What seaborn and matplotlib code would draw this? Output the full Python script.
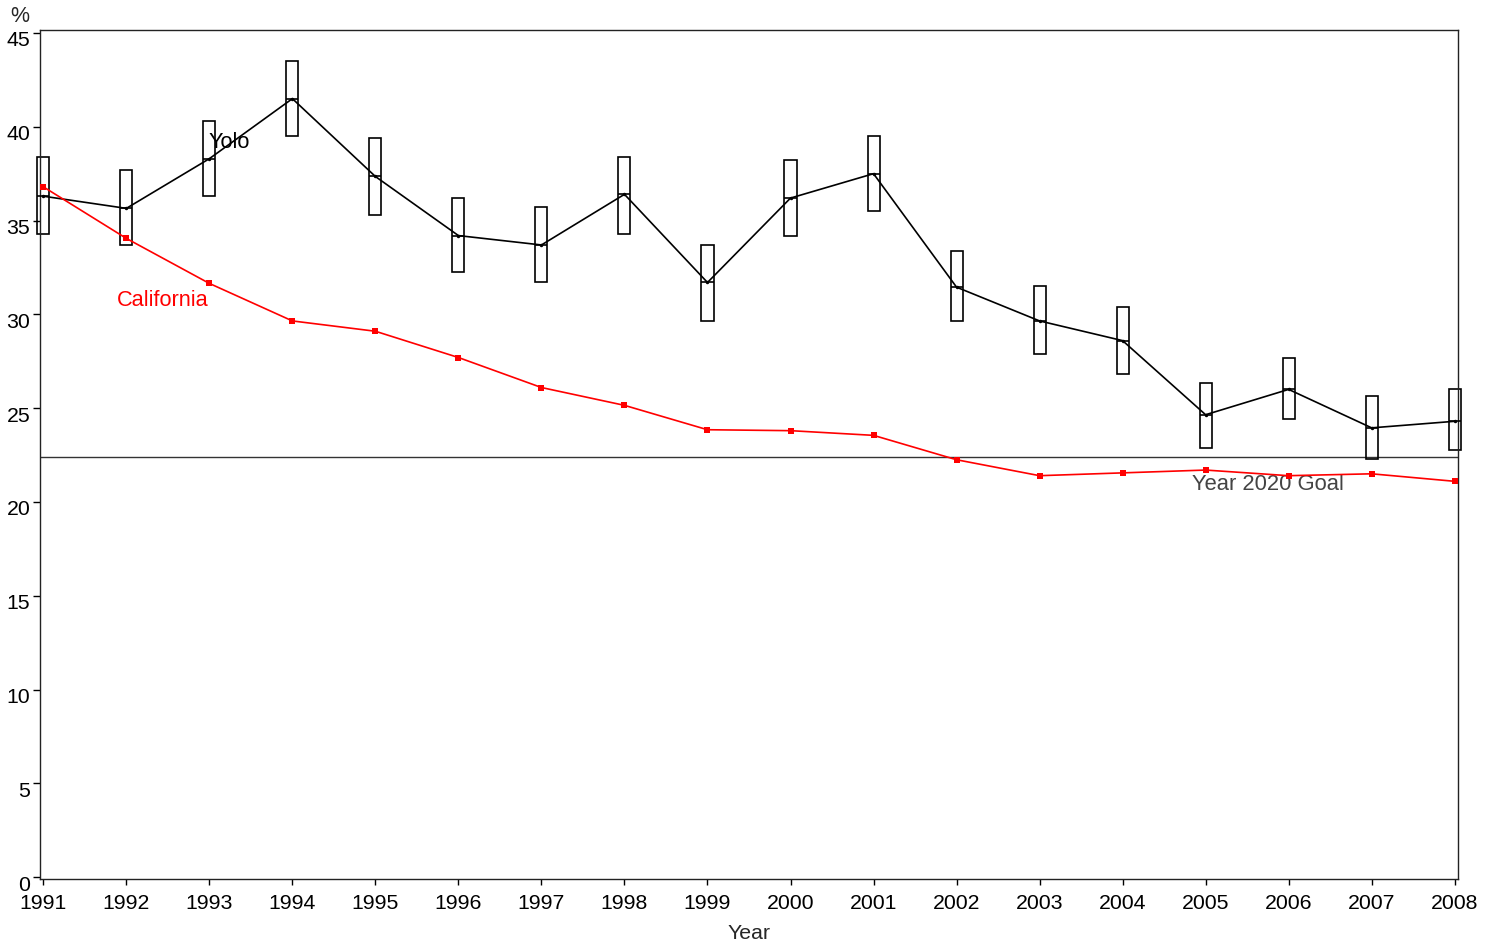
import seaborn as sns
import matplotlib.pyplot as plt
import matplotlib.transforms as mtransforms
import pandas as pd

sns.set_style("ticks")
plt.rcParams["font.family"] = ["Liberation Sans", "DejaVu Sans"]

# Data
years = list(range(1991, 2009))
yolo = [36.3, 35.65, 38.3, 41.5, 37.35, 34.2, 33.7, 36.4, 31.7,
        36.2, 37.5, 31.45, 29.65, 28.6, 24.65, 26.0, 23.95, 24.3]
yolo_upper = [38.4, 37.7, 40.3, 43.5, 39.4, 36.2, 35.7, 38.4, 33.7,
              38.25, 39.5, 33.4, 31.5, 30.4, 26.35, 27.7, 25.65, 26.0]
yolo_lower = [34.3, 33.7, 36.3, 39.5, 35.3, 32.25, 31.7, 34.3, 29.65,
              34.2, 35.5, 29.65, 27.9, 26.8, 22.85, 24.4, 22.3, 22.75]
california = [36.8, 34.05, 31.65, 29.65, 29.1, 27.7, 26.1, 25.15, 23.85,
              23.8, 23.55, 22.25, 21.4, 21.55, 21.7, 21.4, 21.5, 21.1]
goal = 22.4

df = pd.DataFrame({"Year": years, "Yolo": yolo, "California": california,
                   "lower": yolo_lower, "upper": yolo_upper})

fig = plt.figure(figsize=(14.98, 9.45), dpi=100)
ax = fig.add_axes([0.0267, 0.0688, 0.9466, 0.8982])

# confidence boxes for Yolo
w = 0.145
bars = ax.bar(df["Year"], df["upper"] - df["lower"], bottom=df["lower"], width=w,
              fill=False, edgecolor="black", linewidth=1.2, zorder=2)
for b in bars:
    b.set_clip_on(False)
ax.hlines(df["Yolo"], df["Year"] - w / 2, df["Year"] + w / 2,
          color="black", linewidth=1.2, zorder=3, clip_on=False)

sns.lineplot(data=df, x="Year", y="Yolo", ax=ax, color="black", linewidth=1.2,
             marker="o", markersize=2.5, markeredgewidth=0, zorder=4)
sns.lineplot(data=df, x="Year", y="California", ax=ax, color="red", linewidth=1.2,
             marker="s", markersize=4, markeredgewidth=0, zorder=5, clip_on=False)

ax.axhline(goal, color="#333333", linewidth=1, zorder=1)

ax.text(1992.99, 39.2, "Yolo", fontsize=15.7, color="black", va="center")
ax.text(1991.88, 30.8, "California", fontsize=15.7, color="red", va="center")
ax.text(2004.83, 21.0, "Year 2020 Goal", fontsize=15.8, color="#444444", va="center")

ax.set_xlim(1990.96, 2008.04)
ax.set_ylim(-0.1, 45.15)
ax.set_xticks(years)
ax.set_yticks(range(0, 46, 5))
ax.tick_params(labelsize=15.3, width=1, colors="black")
ax.tick_params(axis="x", length=4, pad=6)
ax.tick_params(axis="y", length=5, pad=2)
# y labels sit a little below their ticks in the original
shift = mtransforms.ScaledTranslation(0, -5 / 100, fig.dpi_scale_trans)
for lab in ax.get_yticklabels():
    lab.set_transform(lab.get_transform() + shift)
for s in ax.spines.values():
    s.set_linewidth(1)
    s.set_color("#222222")

ax.set_xlabel("Year", fontsize=15.3, labelpad=8)
ax.set_ylabel("")
fig.text(0.007, 0.983, "%", fontsize=15.5, va="center")

plt.savefig("out.png", dpi=100)
plt.close()
